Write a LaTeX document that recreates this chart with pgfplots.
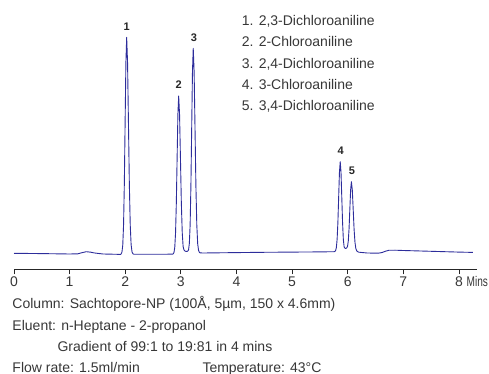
\documentclass[border=0pt]{standalone}
\usepackage{fontspec}
\setmainfont{Liberation Sans}
\usepackage{pgfplots}
\pgfplotsset{compat=1.18}
\definecolor{trace}{RGB}{45,45,155}
\definecolor{txt}{RGB}{55,55,55}
\begin{document}
\begin{tikzpicture}[x=1pt,y=1pt]
\useasboundingbox (0,0) rectangle (489,374);
\begin{axis}[
  at={(14pt,104.7pt)}, anchor=south west,
  scale only axis, width=462.7pt, height=241.3pt,
  xmin=0, xmax=8.32, ymin=-16.3, ymax=225,
  axis x line=bottom, axis y line=none,
  axis line style={-, line width=0.9pt, color=black!85},
  xtick={0,1,2,3,4,5,6,7,8},
  xtick align=outside, major tick length=5pt,
  tick style={line width=0.8pt, color=black!85},
  xticklabel style={anchor=north, inner sep=0pt, yshift=-2.4pt, text=txt, font=\fontsize{14}{16}\selectfont},
  /pgf/number format/assume math mode=true,
  clip=false,
]
\addplot[color=trace, line width=0.9pt, line join=round] coordinates {
(0,-0.3) (0.5,-0.6) (1.0,-1.0) (1.15,-0.8) (1.22,0.3) (1.3,1.3) (1.38,0.8) (1.45,0.0) (1.6,-1.0) (1.85,-1.3) (1.914,-1.5)
(1.928,-0.8) (1.942,1.1) (1.956,8.2) (1.970,28.1) (1.984,69.2) (1.998,130.3) (2.012,190.2) (2.026,215.7) (2.042,190.2) (2.058,130.3) (2.074,69.2) (2.090,28.1) (2.106,8.2) (2.122,1.1) (2.138,-0.8) (2.154,-1.2)
(2.3,-1.3) (2.6,-1.3) (2.849,-1.15) (2.863,-0.85) (2.877,0.56) (2.891,5.74) (2.905,20.2) (2.919,50.2) (2.933,94.8) (2.947,138.4) (2.961,157) (2.977,138.4) (2.993,94.8) (3.009,50.2) (3.025,20.5) (3.041,6.5) (3.057,3.0) (3.073,2.0) (3.09,1.6) (3.111,1.6) (3.125,1.9) (3.139,3.2) (3.153,9.5) (3.167,28.0) (3.181,66.8) (3.195,124.3) (3.209,181) (3.223,204.7) (3.239,181) (3.255,124.3) (3.271,66.8) (3.287,28.0) (3.303,9.2) (3.319,2.5) (3.335,0.5) (3.351,0.1) (3.4,0.0)
(4.0,0.4) (4.5,0.7) (5.0,0.9) (5.5,1.1) (5.754,1.3) (5.768,1.5) (5.782,2.3) (5.796,5.3) (5.810,13.5) (5.824,30.5) (5.838,55.9) (5.852,80.7) (5.866,91.3) (5.880,80.7) (5.894,55.9) (5.908,30.5) (5.922,13.5) (5.936,6.2) (5.950,4.8) (5.964,4.5) (5.980,5.0) (5.997,6.5) (6.011,12.0) (6.025,24.5) (6.039,44) (6.053,63.1) (6.067,71.3) (6.083,63.1) (6.099,43.8) (6.115,24.0) (6.131,10.8) (6.147,4.4) (6.163,2.1) (6.179,1.3) (6.2,0.8) (6.35,0.0) (6.55,-0.2) (6.62,0.5) (6.68,1.8) (6.74,2.7) (6.85,2.8) (7.0,2.5) (7.5,1.7) (8.0,0.9) (8.25,0.6)
};
\end{axis}
% Mins label
\node[anchor=base west, inner sep=0pt, text=txt, font=\fontsize{14}{16}\selectfont] at (466.5,87.3) {\scalebox{0.72}[1]{Mins}};
% peak labels
\begin{scope}[every node/.style={anchor=base, inner sep=0pt, text=black!85, font=\fontsize{11}{13}\bfseries}]
\node at (126.7,343.3) {1};
\node at (178.7,285) {2};
\node at (194,332.3) {3};
\node at (340.7,219) {4};
\node at (352,199) {5};
\end{scope}
% legend text
\begin{scope}[every node/.style={anchor=base west, inner sep=0pt, text=txt, font=\fontsize{14}{16}\selectfont}]
\node at (241.7,348.3) {1. 2,3-Dichloroaniline};
\node at (241.7,327.0) {2. 2-Chloroaniline};
\node at (241.7,305.7) {3. 2,4-Dichloroaniline};
\node at (241.7,284.4) {4. 3-Chloroaniline};
\node at (241.7,263.1) {5. 3,4-Dichloroaniline};
% conditions
\node at (12.3,65.7) {Column: Sachtopore-NP (100Å, 5µm, 150 x 4.6mm)};
\node at (12.3,43.3) {Eluent: n-Heptane - 2-propanol};
\node at (57.3,22.3) {Gradient of 99:1 to 19:81 in 4 mins};
\node at (12.3,1.7) {Flow rate: 1.5ml/min};
\node at (202.3,1.7) {Temperature: 43°C};
\end{scope}
\end{tikzpicture}
\end{document}
